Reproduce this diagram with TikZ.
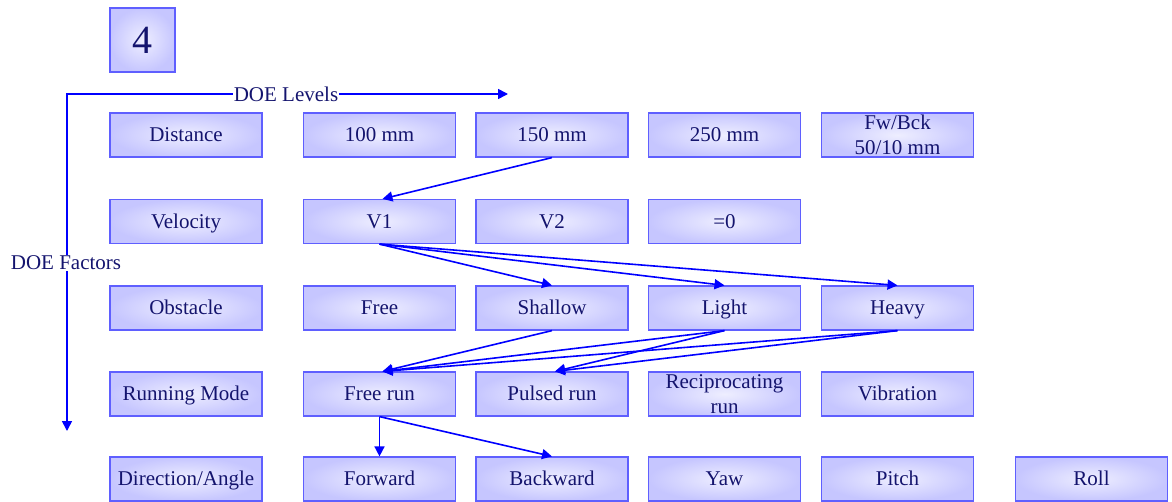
\documentclass[tikz,border=0pt]{standalone}
\usepackage{fontspec}
\setmainfont{LiberationSerif}[Extension=.ttf, UprightFont=*-Regular, BoldFont=*-Bold]
\usetikzlibrary{arrows.meta}
\definecolor{txtc}{RGB}{20,20,110}
\definecolor{boxedge}{RGB}{95,95,255}
\definecolor{boxin}{RGB}{238,238,255}
\definecolor{boxout}{RGB}{198,198,255}
\definecolor{linec}{RGB}{0,0,255}
\tikzset{
  cellbase/.style={draw=boxedge, line width=1.2pt, inner sep=0pt,
    minimum width=152pt, minimum height=44pt, align=center,
    shading=radial, inner color=boxin, outer color=boxout,
    text=txtc, font=\fontsize{21}{25.5}\selectfont},
  cell/.style={cellbase, text height=13.9pt, text depth=0pt},
  celltwo/.style={cellbase},
  axislabel/.style={inner sep=1pt, text=txtc, font=\fontsize{21}{24}\selectfont},
  conn/.style={draw=linec, line width=1.6pt, -{Triangle[length=10pt,width=10pt]}},
  axisline/.style={draw=linec, line width=1.6pt}
}
\begin{document}
\begin{tikzpicture}[x=1pt,y=-1pt]
\useasboundingbox (0,0) rectangle (1172,501);
% title box
\node[cellbase, minimum width=65pt, minimum height=64pt, text height=27pt, text depth=0pt, font=\fontsize{40}{44}\selectfont] (four) at (142.5,40) {4};
% rows
\node[cell] (dist) at (186,135) {Distance};
\node[cell] (d100) at (379.5,135) {100 mm};
\node[cell] (d150) at (552,135) {150 mm};
\node[cell] (d250) at (724.5,135) {250 mm};
\node[celltwo] (dfb) at (897.5,135) {Fw/Bck\\50/10 mm};

\node[cell] (vel) at (186,221.5) {Velocity};
\node[cell] (v1) at (379.5,221.5) {V1};
\node[cell] (v2) at (552,221.5) {V2};
\node[cell] (v0) at (724.5,221.5) {=0};

\node[cell] (obs) at (186,308) {Obstacle};
\node[cell] (ofree) at (379.5,308) {Free};
\node[cell] (oshal) at (552,308) {Shallow};
\node[cell] (olight) at (724.5,308) {Light};
\node[cell] (oheavy) at (897.5,308) {Heavy};

\node[cell] (run) at (186,394) {Running Mode};
\node[cell] (rfree) at (379.5,394) {Free run};
\node[cell] (rpulse) at (552,394) {Pulsed run};
\node[celltwo] (rrecip) at (724.5,394) {Reciprocating\\run};
\node[cell] (rvib) at (897.5,394) {Vibration};

\node[cell] (dir) at (186,479) {Direction/Angle};
\node[cell] (fwd) at (379.5,479) {Forward};
\node[cell] (bwd) at (552,479) {Backward};
\node[cell] (yaw) at (724.5,479) {Yaw};
\node[cell] (pitch) at (897.5,479) {Pitch};
\node[cell] (roll) at (1091.5,479) {Roll};

% axes
\coordinate (corner) at (67,94);
\coordinate (hend) at (508,94);
\coordinate (vend) at (67,431);
\node[axislabel] (levels) at (286,94) {DOE Levels};
\node[axislabel] (factors) at (66,263) {DOE Factors};
\draw[axisline] (levels.west) -- (corner) -- (factors.north -| corner);
\draw[axisline, -{Triangle[length=10pt,width=10pt]}] (levels.east) -- (hend);
\draw[axisline, -{Triangle[length=10pt,width=10pt]}] (factors.south -| corner) -- (vend);

% connectors
\draw[conn] (d150.south) -- ([xshift=3pt]v1.north);
\draw[conn] (v1.south) -- (oshal.north);
\draw[conn] (v1.south) -- (olight.north);
\draw[conn] (v1.south) -- (oheavy.north);
\draw[conn] (oshal.south) -- ([xshift=3pt]rfree.north);
\draw[conn] (olight.south) -- ([xshift=3pt]rfree.north);
\draw[conn] (olight.south) -- ([xshift=3pt]rpulse.north);
\draw[conn] (oheavy.south) -- ([xshift=3pt]rfree.north);
\draw[conn] (oheavy.south) -- ([xshift=3pt]rpulse.north);
\draw[conn] (rfree.south) -- (fwd.north);
\draw[conn] (rfree.south) -- (bwd.north);
\end{tikzpicture}
\end{document}
